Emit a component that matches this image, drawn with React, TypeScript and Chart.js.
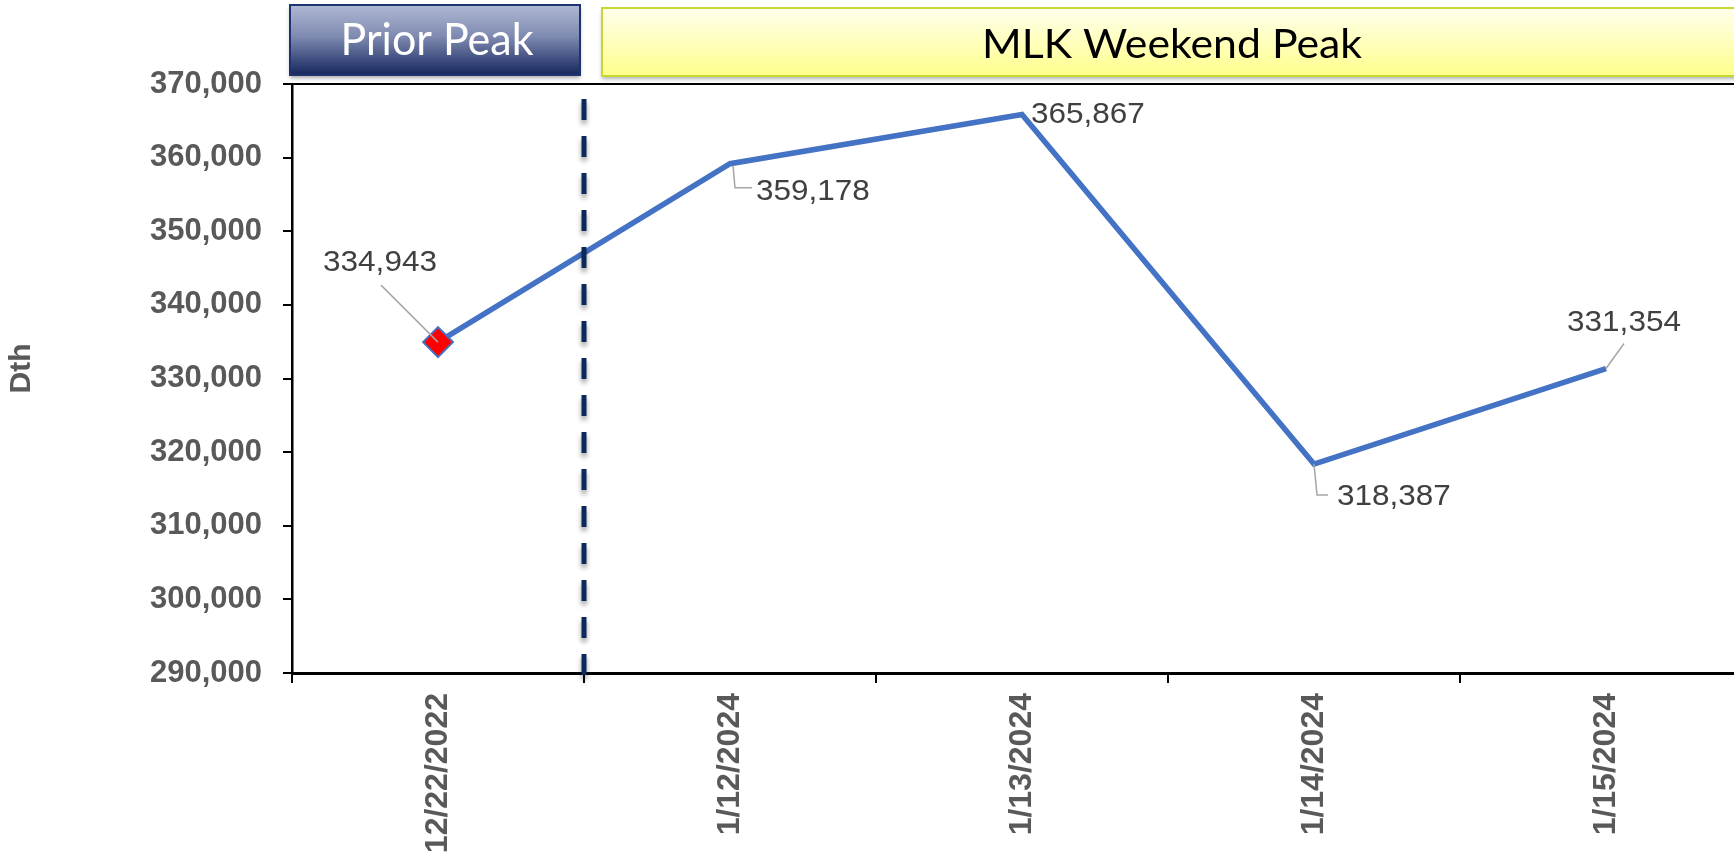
import React, { useEffect, useRef } from 'react';
import { Chart, registerables } from 'chart.js';

Chart.register(...registerables);

// ---- data ----
const categories = ['12/22/2022', '1/12/2024', '1/13/2024', '1/14/2024', '1/15/2024'];
const demandDth = [334943, 359178, 365867, 318387, 331354];
const yMin = 290000;
const yMax = 370000;
const yStep = 10000;
const bannerLabels = ['Prior Peak', 'MLK Weekend Peak'];
const axisTitle = 'Dth';

// ---- styling ----
const FONT = '"Liberation Sans", Arial, Helvetica, sans-serif';
const BANNER_FONT = 'Lato, "Open Sans", sans-serif';

// data-label placement relative to each point (pixels)
const labelLayout: any[] = [
  { dx: -58, dy: -79, align: 'center', leader: [[0, 0], [-57, -57]] },
  { dx: 26, dy: 28, align: 'left', leader: [[3, 2], [5, 24], [22, 24]] },
  { dx: 9, dy: 0, align: 'left', leader: null },
  { dx: 23, dy: 33, align: 'left', leader: [[0, 0], [3, 31], [14, 31]] },
  { dx: 18, dy: -46, align: 'center', leader: [[0, 0], [18, -25]] },
];

function fitText(ctx: CanvasRenderingContext2D, text: string, cx: number, baseline: number, targetWidth: number) {
  const w = ctx.measureText(text).width;
  const sx = targetWidth / w;
  ctx.save();
  ctx.translate(cx, baseline);
  ctx.scale(sx, 1);
  ctx.textAlign = 'center';
  ctx.textBaseline = 'alphabetic';
  ctx.fillText(text, 0, 0);
  ctx.restore();
}

const overlayPlugin = {
  id: 'overlay',
  afterDatasetsDraw(chart: any) {
    const { ctx, chartArea, scales } = chart;
    const xs = scales.x;
    // top border of plot
    ctx.save();
    ctx.strokeStyle = '#000';
    ctx.lineWidth = 2;
    ctx.beginPath();
    ctx.moveTo(chartArea.left - 9, chartArea.top);
    ctx.lineTo(chartArea.right + 20, chartArea.top);
    ctx.stroke();
    ctx.restore();

    // dashed divider
    const divX = (xs.getPixelForValue(0) + xs.getPixelForValue(1)) / 2;
    ctx.save();
    ctx.strokeStyle = '#0B2A5B';
    ctx.lineWidth = 5;
    ctx.setLineDash([21, 16]);
    ctx.shadowColor = 'rgba(0,0,0,0.4)';
    ctx.shadowBlur = 5;
    ctx.shadowOffsetY = 4;
    ctx.beginPath();
    ctx.moveTo(divX, chartArea.top + 15);
    ctx.lineTo(divX, chartArea.bottom + 10);
    ctx.stroke();
    ctx.restore();

    // data labels with leader lines
    const meta = chart.getDatasetMeta(0);
    meta.data.forEach((pt: any, i: number) => {
      const cfg = labelLayout[i];
      if (!cfg) return;
      if (cfg.leader) {
        ctx.save();
        ctx.strokeStyle = '#A6A6A6';
        ctx.lineWidth = 1.5;
        ctx.beginPath();
        cfg.leader.forEach((p: number[], k: number) => {
          if (k === 0) ctx.moveTo(pt.x + p[0], pt.y + p[1]);
          else ctx.lineTo(pt.x + p[0], pt.y + p[1]);
        });
        ctx.stroke();
        ctx.restore();
      }
      ctx.save();
      ctx.fillStyle = '#404040';
      ctx.font = `30px ${FONT}`;
      ctx.textAlign = cfg.align;
      ctx.textBaseline = 'middle';
      ctx.translate(pt.x + cfg.dx, pt.y + cfg.dy);
      ctx.scale(1.05, 1);
      ctx.fillText(demandDth[i].toLocaleString('en-US'), 0, 0);
      ctx.restore();
    });
  },
  afterDraw(chart: any) {
    const { ctx, chartArea, scales } = chart;
    const xs = scales.x;
    const divX = (xs.getPixelForValue(0) + xs.getPixelForValue(1)) / 2;

    // Prior Peak banner
    const p = { l: chartArea.left - 2, r: divX - 4, t: 5, b: 75 };
    ctx.save();
    let g = ctx.createLinearGradient(0, p.t, 0, p.b);
    g.addColorStop(0, '#B0B8D4');
    g.addColorStop(0.45, '#7E8AB0');
    g.addColorStop(1, '#16265E');
    ctx.shadowColor = 'rgba(0,0,0,0.35)';
    ctx.shadowBlur = 4;
    ctx.shadowOffsetY = 3;
    ctx.fillStyle = g;
    ctx.fillRect(p.l, p.t, p.r - p.l, p.b - p.t);
    ctx.shadowColor = 'transparent';
    ctx.strokeStyle = '#1F3370';
    ctx.lineWidth = 2;
    ctx.strokeRect(p.l, p.t, p.r - p.l, p.b - p.t);
    ctx.fillStyle = '#FFFFFF';
    ctx.font = `44px ${BANNER_FONT}`;
    fitText(ctx, bannerLabels[0], (p.l + p.r) / 2 + 2, 55, 193);
    ctx.restore();

    // MLK banner
    const m = { l: divX + 18, r: chartArea.right + 30, t: 8, b: 76 };
    ctx.save();
    g = ctx.createLinearGradient(0, m.t, 0, m.b);
    g.addColorStop(0, '#FFFFEE');
    g.addColorStop(1, '#FFFF8C');
    ctx.shadowColor = 'rgba(0,0,0,0.3)';
    ctx.shadowBlur = 4;
    ctx.shadowOffsetY = 3;
    ctx.fillStyle = g;
    ctx.fillRect(m.l, m.t, m.r - m.l, m.b - m.t);
    ctx.shadowColor = 'transparent';
    ctx.strokeStyle = '#C8D832';
    ctx.lineWidth = 2;
    ctx.strokeRect(m.l, m.t, m.r - m.l, m.b - m.t);
    ctx.fillStyle = '#000000';
    ctx.font = `40px ${BANNER_FONT}`;
    fitText(ctx, bannerLabels[1], 1172, 58, 380);
    ctx.restore();

    // Y axis title
    ctx.save();
    ctx.fillStyle = '#595959';
    ctx.font = `bold 30px ${FONT}`;
    ctx.translate(22, (chartArea.top + chartArea.bottom) / 2 - 10);
    ctx.rotate(-Math.PI / 2);
    ctx.textAlign = 'center';
    ctx.textBaseline = 'middle';
    ctx.fillText(axisTitle, 0, 0);
    ctx.restore();
  },
};

export default function App() {
  const canvasRef = useRef<HTMLCanvasElement | null>(null);

  useEffect(() => {
    const canvas = canvasRef.current;
    if (!canvas) return;
    const chart = new Chart(canvas, {
      type: 'line',
      data: {
        labels: categories,
        datasets: [
          {
            data: demandDth,
            borderColor: '#4472C4',
            borderWidth: 5.5,
            pointRadius: demandDth.map((_, i) => (i === 0 ? 15 : 0)),
            pointHoverRadius: demandDth.map((_, i) => (i === 0 ? 15 : 0)),
            pointStyle: 'rectRot',
            pointBackgroundColor: '#FF0000',
            pointBorderColor: '#4472C4',
            pointBorderWidth: 2,
            tension: 0,
            fill: false,
            clip: false as any,
          },
        ],
      },
      options: {
        responsive: false,
        animation: false,
        devicePixelRatio: 1,
        events: [],
        layout: { padding: { top: 84, right: 28, left: 0, bottom: 0 } },
        plugins: { legend: { display: false }, tooltip: { enabled: false } },
        scales: {
          x: {
            type: 'category',
            offset: true,
            grid: {
              display: true,
              offset: true,
              drawOnChartArea: false,
              drawTicks: true,
              tickLength: 10,
              color: '#000',
              lineWidth: 2,
            },
            border: { display: true, color: '#000', width: 3 },
            ticks: {
              minRotation: 90,
              maxRotation: 90,
              autoSkip: false,
              padding: 10,
              color: '#595959',
              font: { family: FONT, size: 32, weight: 'bold' },
            },
            afterFit: (s: any) => {
              s.height = 181;
              s.paddingLeft = 0;
              s.paddingRight = 0;
            },
          },
          y: {
            min: yMin,
            max: yMax,
            ticks: {
              stepSize: yStep,
              padding: 21,
              color: '#595959',
              font: { family: FONT, size: 31, weight: 'bold' },
              callback: (v: any) => Number(v).toLocaleString('en-US'),
            },
            grid: {
              display: true,
              drawOnChartArea: false,
              drawTicks: true,
              tickLength: 9,
              color: '#000',
              lineWidth: 2,
            },
            border: { display: true, color: '#000', width: 2.5 },
            afterFit: (s: any) => {
              s.width = 292;
            },
          },
        },
      },
      plugins: [overlayPlugin],
    } as any);
    return () => chart.destroy();
  }, []);

  return (
    <div
      style={{
        position: 'fixed',
        left: 0,
        top: 0,
        width: 1734,
        height: 854,
        overflow: 'hidden',
        background: '#fff',
      }}
    >
      <canvas ref={canvasRef} width={1780} height={854} style={{ display: 'block' }} />
    </div>
  );
}
